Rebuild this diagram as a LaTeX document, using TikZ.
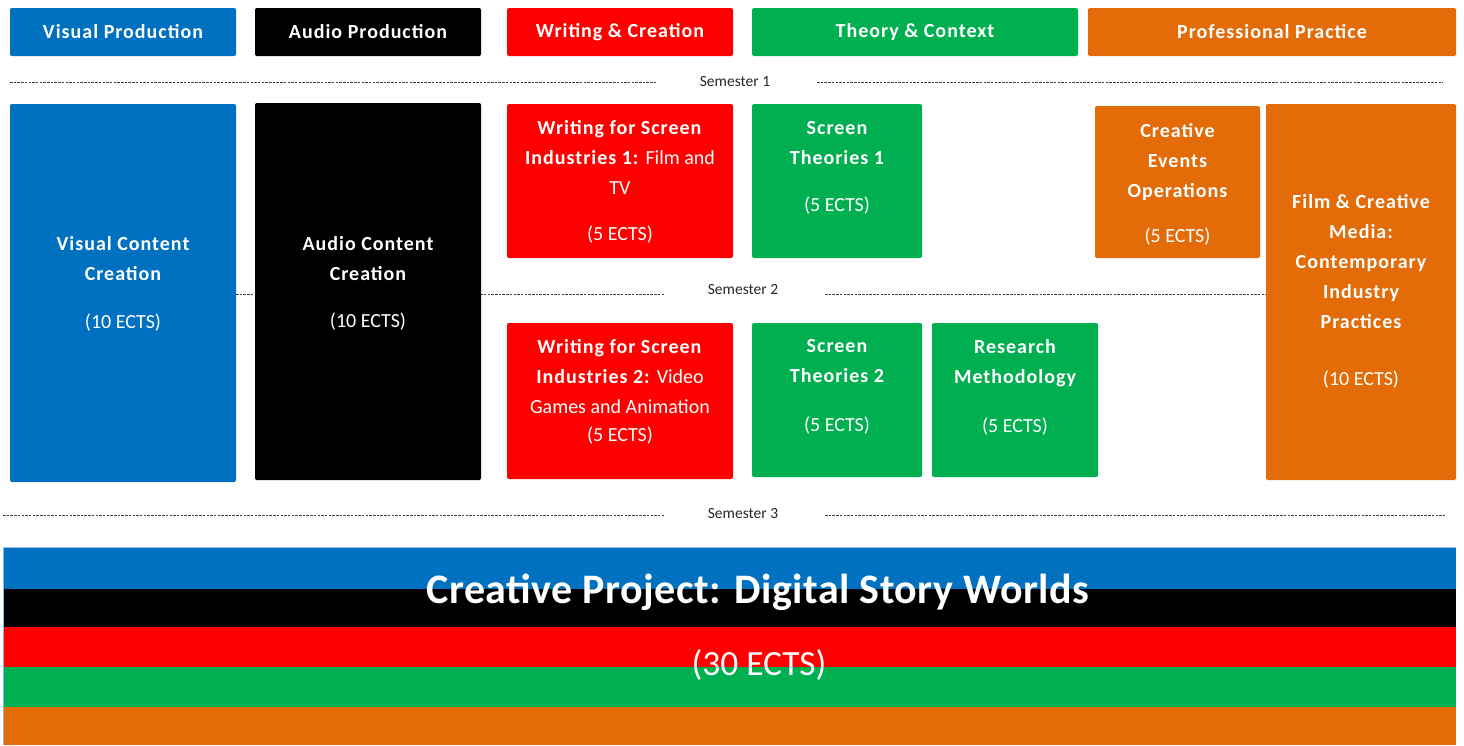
\documentclass[tikz,border=0pt]{standalone}
\usepackage{fontspec}
\setmainfont{Carlito}[BoldFeatures={LetterSpace=5}]
\newfontfamily\bannerfont{Carlito}[BoldFeatures={LetterSpace=1.2}]
\definecolor{cblue}{HTML}{0070C0}
\definecolor{cred}{HTML}{FF0000}
\definecolor{cgreen}{HTML}{00B050}
\definecolor{corange}{HTML}{E36C09}
\definecolor{cline}{HTML}{404040}
\tikzset{
  cat/.style={rectangle, rounded corners=2pt, inner sep=0pt, text=white,
    font=\fontsize{20}{24}\selectfont\bfseries},
  modbox/.style={rectangle, rounded corners=2pt, inner sep=0pt},
  modtext/.style={text=white, align=center, inner sep=0pt,
    font=\fontsize{20}{30}\selectfont},
  semtext/.style={text=black!85, inner sep=0pt, font=\fontsize{15.5}{17}\selectfont},
  semline/.style={draw=cline, line width=0.7pt, dash pattern=on 2.5pt off 1.2pt},
}
\begin{document}
\begin{tikzpicture}[x=1pt,y=-1pt]
\useasboundingbox (0,0) rectangle (1464,745);

% category headers
\node[cat, fill=cblue,   minimum width=226, minimum height=48] (hvis) at (123,32)  {Visual Production};
\node[cat, fill=black,   minimum width=226, minimum height=48] (haud) at (368,32)  {Audio Production};
\node[cat, fill=cred,    minimum width=226, minimum height=48] (hwri) at (620,32)  {Writing \& Creation};
\node[cat, fill=cgreen,  minimum width=326, minimum height=48] (hthe) at (915,32)  {Theory \& Context};
\node[cat, fill=corange, minimum width=368, minimum height=48] (hpro) at (1272,32) {Professional Practice};

% semester separators
\node[semtext] (sem1) at (735,82) {Semester 1};
\coordinate (s1a) at (10,82);   \coordinate (s1b) at (657,82);
\coordinate (s1c) at (817,82);  \coordinate (s1d) at (1443,82);
\draw[semline] (s1a) -- (s1b);
\draw[semline] (s1c) -- (s1d);

\node[semtext] (sem2) at (743,290) {Semester 2};
\coordinate (s2a) at (236,294); \coordinate (s2b) at (665,294);
\coordinate (s2c) at (825,294); \coordinate (s2d) at (1266,294);
\draw[semline] (s2a) -- (s2b);
\draw[semline] (s2c) -- (s2d);

\node[semtext] (sem3) at (743,514) {Semester 3};
\coordinate (s3a) at (3,515);   \coordinate (s3b) at (665,515);
\coordinate (s3c) at (825,515); \coordinate (s3d) at (1446,515);
\draw[semline] (s3a) -- (s3b);
\draw[semline] (s3c) -- (s3d);

% module boxes
\node[modbox, fill=cblue,   minimum width=226, minimum height=378] (vcc)  at (123,293)   {};
\node[modbox, fill=black,   minimum width=226, minimum height=377] (acc)  at (368,291.5) {};
\node[modbox, fill=cred,    minimum width=226, minimum height=154] (wsi1) at (620,181)   {};
\node[modbox, fill=cgreen,  minimum width=170, minimum height=154] (st1)  at (837,181)   {};
\node[modbox, fill=corange, minimum width=165, minimum height=152] (ceo)  at (1177.5,182) {};
\node[modbox, fill=corange, minimum width=190, minimum height=376] (fcm)  at (1361,292)  {};
\node[modbox, fill=cred,    minimum width=226, minimum height=156] (wsi2) at (620,401)   {};
\node[modbox, fill=cgreen,  minimum width=170, minimum height=154] (st2)  at (837,400)   {};
\node[modbox, fill=cgreen,  minimum width=166, minimum height=154] (rm)   at (1015,400)  {};

% module texts
\node[modtext] (vcct)  at (vcc.center |- 0,284) {\bfseries Visual Content\\\bfseries Creation\\[18pt](10 ECTS)};
\node[modtext] (acct)  at (acc.center |- 0,283) {\bfseries Audio Content\\\bfseries Creation\\[17pt](10 ECTS)};
\node[modtext] (wsi1t) at (wsi1.center |- 0,182) {\textbf{Writing for Screen}\\\textbf{Industries 1:} Film and\\TV\\[16pt](5 ECTS)};
\node[modtext] (st1t)  at (st1.center |- 0,168) {\bfseries Screen\\\bfseries Theories 1\\[17pt](5 ECTS)};
\node[modtext] (ceot)  at (ceo.center |- 0,184) {\bfseries Creative\\\bfseries Events\\\bfseries Operations\\[15pt](5 ECTS)};
\node[modtext] (fcmt)  at (fcm.center |- 0,291) {\bfseries Film \& Creative\\\bfseries Media:\\\bfseries Contemporary\\\bfseries Industry\\\bfseries Practices\\[27pt](10 ECTS)};
\node[modtext] (wsi2t) at (wsi2.center |- 0,392) {\textbf{Writing for Screen}\\\textbf{Industries 2:} Video\\Games and Animation\\[-2pt](5 ECTS)};
\node[modtext] (st2t)  at (st2.center |- 0,387) {\bfseries Screen\\\bfseries Theories 2\\[19pt](5 ECTS)};
\node[modtext] (rmt)   at (rm.center |- 0,387) {\bfseries Research\\\bfseries Methodology\\[19pt](5 ECTS)};

% final project banner in the five category colours
\fill[cblue]   (3,547) rectangle (1456,589);
\fill[black]   (3,589) rectangle (1456,627);
\fill[cred]    (3,627) rectangle (1456,667);
\fill[cgreen]  (3,667) rectangle (1456,707);
\fill[corange] (3,707) rectangle (1456,745);
\draw[cblue!45, line width=0.6pt] (3,745) -- (3,547) -- (1456,547);
\node[text=white, inner sep=0pt, font=\bannerfont\fontsize{42}{44}\selectfont\bfseries] (proj) at (758,592) {Creative Project: Digital Story Worlds};
\node[text=white, inner sep=0pt, font=\fontsize{35.5}{38}\selectfont] (projects) at (759,665) {(30 ECTS)};
\end{tikzpicture}
\end{document}
